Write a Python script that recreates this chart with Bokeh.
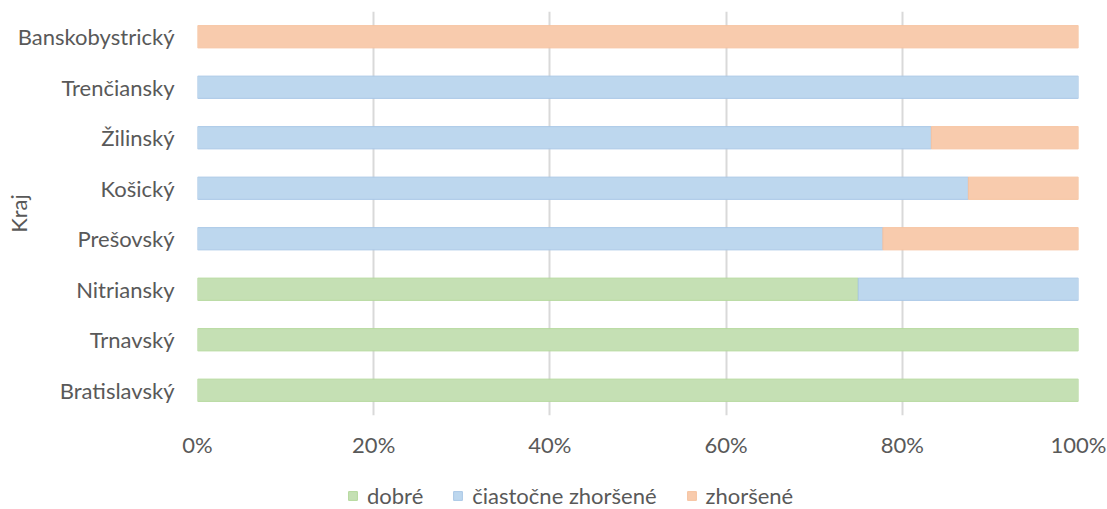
from bokeh.plotting import figure
from bokeh.layouts import column
from bokeh.models import ColumnDataSource, FactorRange, Range1d, NumeralTickFormatter, Legend, LegendItem, FixedTicker
from bokeh.embed import file_html
from bokeh.resources import INLINE

kraje = ["Bratislavský", "Trnavský", "Nitriansky", "Prešovský", "Košický", "Žilinský", "Trenčiansky", "Banskobystrický"]
dobre = [1.0, 1.0, 0.75, 0.0, 0.0, 0.0, 0.0, 0.0]
ciastocne = [0.0, 0.0, 0.25, 0.778, 0.875, 0.833, 1.0, 0.0]
zhorsene = [0.0, 0.0, 0.0, 0.222, 0.125, 0.167, 0.0, 1.0]
series_names = ["dobré", "čiastočne zhoršené", "zhoršené"]
x_ticks = [0, 0.2, 0.4, 0.6, 0.8, 1.0]

fills = ["#C5E0B4", "#BDD7EE", "#F8CBAD"]
lines = ["#B4D89C", "#A9C7E6", "#F6C3A0"]

FONT = "Lato"
TXT = "#595959"
FS = "22px"

p = figure(width=1107, height=480, y_range=FactorRange(factors=kraje, range_padding=0),
           x_range=Range1d(0, 1), output_backend="svg", toolbar_location=None,
           min_border_left=197, min_border_right=29, min_border_top=11, min_border_bottom=65)
p.outline_line_color = None

series = [dobre, ciastocne, zhorsene]
sources = []
left = [0.0] * len(kraje)
for vals, fc, lc in zip(series, fills, lines):
    ys, ls, rs = [], [], []
    for k, l, v in zip(kraje, left, vals):
        if v > 0:
            ys.append(k)
            ls.append(l)
            rs.append(l + v)
    src = ColumnDataSource(dict(y=ys, left=ls, right=rs))
    sources.append(src)
    p.hbar(y="y", left="left", right="right", height=0.44, source=src,
           fill_color=fc, line_color=lc, line_width=1)
    left = [a + b for a, b in zip(left, vals)]

p.xaxis.ticker = FixedTicker(ticks=x_ticks)
p.xaxis.formatter = NumeralTickFormatter(format="0%")
p.xgrid.ticker = FixedTicker(ticks=x_ticks)
p.xgrid.grid_line_color = "#D9D9D9"
p.xgrid.grid_line_width = 2
p.ygrid.grid_line_color = None

for ax in (p.xaxis, p.yaxis):
    ax.axis_line_color = None
    ax.major_tick_line_color = None
    ax.minor_tick_line_color = None
    ax.major_tick_out = 0
    ax.major_tick_in = 0
    ax.minor_tick_out = 0
    ax.major_label_text_font = FONT
    ax.major_label_text_font_size = FS
    ax.major_label_text_color = TXT

p.xaxis.major_label_standoff = 15
p.yaxis.major_label_standoff = 23
p.yaxis.axis_label = "Kraj"
p.yaxis.axis_label_text_font = FONT
p.yaxis.axis_label_text_font_size = FS
p.yaxis.axis_label_text_font_style = "normal"
p.yaxis.axis_label_text_color = TXT
p.yaxis.axis_label_standoff = -17

# legend strip below the chart: same series sources; its y range holds no region,
# so the bars themselves are not drawn here, only the legend swatches
pl = figure(width=1107, height=29, x_range=Range1d(0, 1), y_range=FactorRange(factors=["legenda"]),
            output_backend="svg", toolbar_location=None,
            x_axis_location=None, y_axis_location=None, min_border=0)
pl.outline_line_color = None
pl.grid.visible = False
swatches = []
for src, fc, lc in zip(sources, fills, lines):
    swatches.append(pl.hbar(y="y", left="left", right="right", height=0.44, source=src,
                            fill_color=fc, line_color=lc, line_width=1))

legend = Legend(items=[LegendItem(label=n, renderers=[r]) for n, r in zip(series_names, swatches)],
                orientation="horizontal", location=(150, 0),
                glyph_width=11, glyph_height=11, label_standoff=9, spacing=29,
                label_text_font=FONT, label_text_font_size=FS, label_text_color=TXT,
                label_height=14, padding=0, margin=0,
                background_fill_alpha=0, border_line_color=None)
pl.add_layout(legend, "center")

layout = column(p, pl, spacing=0)
open("out.html", "w").write(file_html(layout, INLINE))
